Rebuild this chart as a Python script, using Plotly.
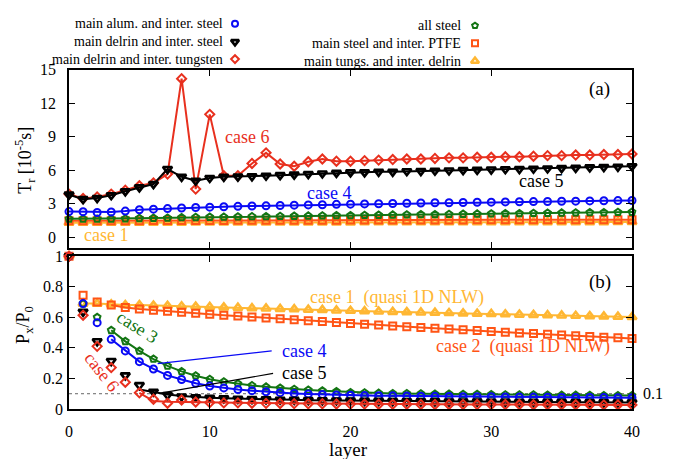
import plotly.graph_objects as go

# ---------------------------------------------------------------- data
layers = list(range(41))

# (a) relaxation time T_r [1e-5 s] per layer
tr_alum_steel = [2.28, 2.27, 2.2, 2.25, 2.33, 2.45, 2.5, 2.55, 2.6, 2.65, 2.68,
                 2.72, 2.75, 2.78, 2.8, 2.83, 2.86, 2.88, 2.9, 2.93, 2.95,
                 2.97, 2.99, 3.01, 3.03, 3.05, 3.07, 3.08, 3.1, 3.12, 3.13,
                 3.15, 3.16, 3.18, 3.19, 3.21, 3.22, 3.24, 3.25, 3.27, 3.28]
tr_delrin_steel = [3.8, 3.4, 3.5, 3.75, 4.1, 4.45, 4.75, 6.1, 5.4, 5.05, 5.3,
                   5.4, 5.42, 5.45, 5.5, 5.55, 5.6, 5.65, 5.7, 5.75, 5.8,
                   5.8, 5.85, 5.85, 5.9, 5.92, 5.95, 5.97, 6.0, 6.02, 6.05,
                   6.08, 6.1, 6.13, 6.15, 6.18, 6.2, 6.25, 6.28, 6.3, 6.35]
tr_delrin_tungsten = [3.85, 3.45, 3.6, 3.85, 4.2, 4.6, 4.85, 5.65, 14.2, 4.3, 11.0,
                      5.5, 5.5, 6.6, 7.55, 6.55, 6.35, 6.75, 7.0, 6.8, 6.8,
                      6.85, 6.9, 6.95, 7.0, 7.0, 7.05, 7.1, 7.1, 7.15, 7.15,
                      7.2, 7.2, 7.25, 7.3, 7.3, 7.35, 7.35, 7.4, 7.4, 7.45]
tr_all_steel = [1.63, 1.63, 1.62, 1.63, 1.65, 1.68, 1.7, 1.72, 1.75, 1.77, 1.79,
                1.8, 1.82, 1.84, 1.85, 1.87, 1.88, 1.9, 1.91, 1.93, 1.94,
                1.96, 1.97, 1.99, 2.0, 2.02, 2.03, 2.05, 2.06, 2.08, 2.09,
                2.11, 2.12, 2.14, 2.15, 2.17, 2.18, 2.2, 2.21, 2.23, 2.24]
tr_steel_ptfe = [1.46, 1.46, 1.46, 1.47, 1.47, 1.47, 1.48, 1.48, 1.48, 1.49, 1.49,
                 1.49, 1.5, 1.5, 1.5, 1.5, 1.51, 1.51, 1.51, 1.51, 1.52,
                 1.52, 1.52, 1.52, 1.53, 1.53, 1.53, 1.53, 1.53, 1.54, 1.54,
                 1.54, 1.54, 1.54, 1.55, 1.55, 1.55, 1.55, 1.55, 1.56, 1.56]
tr_tungs_delrin = [1.28, 1.28, 1.28, 1.28, 1.29, 1.29, 1.29, 1.29, 1.29, 1.3, 1.3,
                   1.3, 1.3, 1.3, 1.3, 1.31, 1.31, 1.31, 1.31, 1.31, 1.31,
                   1.32, 1.32, 1.32, 1.32, 1.32, 1.32, 1.33, 1.33, 1.33, 1.33,
                   1.33, 1.33, 1.34, 1.34, 1.34, 1.34, 1.34, 1.34, 1.35, 1.35]

# (b) transmitted force ratio P_x/P_0 per layer
p_alum_steel = [1.0, 0.69, 0.565, 0.456, 0.38, 0.31, 0.262, 0.22, 0.193, 0.168, 0.15,
                0.138, 0.128, 0.12, 0.113, 0.107, 0.102, 0.098, 0.095, 0.092, 0.09,
                0.088, 0.087, 0.086, 0.085, 0.084, 0.083, 0.082, 0.081, 0.08, 0.08,
                0.079, 0.078, 0.078, 0.077, 0.076, 0.076, 0.075, 0.075, 0.074, 0.074]
p_delrin_steel = [1.0, 0.636, 0.443, 0.314, 0.22, 0.156, 0.113, 0.092, 0.082, 0.077, 0.074,
                  0.07, 0.067, 0.065, 0.063, 0.061, 0.06, 0.058, 0.057, 0.056, 0.055,
                  0.054, 0.053, 0.052, 0.051, 0.05, 0.05, 0.049, 0.048, 0.048, 0.047,
                  0.047, 0.046, 0.046, 0.045, 0.045, 0.044, 0.044, 0.044, 0.043, 0.043]
p_delrin_tungsten = [1.0, 0.614, 0.41, 0.271, 0.175, 0.106, 0.064, 0.038, 0.059, 0.046, 0.042,
                     0.04, 0.04, 0.038, 0.037, 0.036, 0.035, 0.034, 0.034, 0.033, 0.032,
                     0.032, 0.031, 0.031, 0.031, 0.03, 0.03, 0.03, 0.03, 0.029, 0.029,
                     0.029, 0.029, 0.028, 0.028, 0.028, 0.028, 0.028, 0.027, 0.027, 0.027]
p_all_steel = [1.0, 0.69, 0.6, 0.515, 0.443, 0.38, 0.327, 0.282, 0.246, 0.218, 0.195,
               0.178, 0.165, 0.154, 0.145, 0.137, 0.13, 0.124, 0.119, 0.115, 0.108,
               0.106, 0.104, 0.102, 0.101, 0.1, 0.099, 0.098, 0.097, 0.096, 0.095,
               0.094, 0.093, 0.093, 0.092, 0.091, 0.091, 0.09, 0.089, 0.089, 0.088]
p_steel_ptfe = [1.0, 0.745, 0.7, 0.68, 0.665, 0.655, 0.647, 0.64, 0.633, 0.627, 0.62,
                0.614, 0.608, 0.602, 0.596, 0.59, 0.584, 0.578, 0.572, 0.566, 0.56,
                0.555, 0.55, 0.544, 0.539, 0.534, 0.529, 0.523, 0.518, 0.513, 0.508,
                0.503, 0.498, 0.494, 0.489, 0.484, 0.479, 0.475, 0.47, 0.466, 0.461]
p_tungs_delrin = [1.0, 0.69, 0.69, 0.685, 0.68, 0.68, 0.677, 0.675, 0.672, 0.67, 0.668,
                  0.665, 0.663, 0.66, 0.658, 0.655, 0.653, 0.65, 0.648, 0.645, 0.643,
                  0.64, 0.638, 0.636, 0.634, 0.632, 0.63, 0.628, 0.626, 0.624, 0.622,
                  0.62, 0.618, 0.616, 0.614, 0.612, 0.61, 0.608, 0.606, 0.604, 0.602]

# smooth decay curves drawn under the (b) markers, from layer 5 on
fit_layers = list(range(5, 41))
fit_delrin_steel = [0.128, 0.11, 0.095, 0.085, 0.078, 0.074,
                    0.07, 0.067, 0.065, 0.063, 0.061, 0.06, 0.058, 0.057, 0.056, 0.055,
                    0.054, 0.053, 0.052, 0.051, 0.05, 0.05, 0.049, 0.048, 0.048, 0.047,
                    0.047, 0.046, 0.046, 0.045, 0.045, 0.044, 0.044, 0.044, 0.043, 0.043]
fit_delrin_tungsten = [0.106, 0.052, 0.048, 0.046, 0.045, 0.043,
                       0.042, 0.041, 0.04, 0.039, 0.038, 0.037, 0.036, 0.035, 0.034, 0.034,
                       0.033, 0.032, 0.032, 0.031, 0.031, 0.03, 0.03, 0.03, 0.029, 0.029,
                       0.029, 0.028, 0.028, 0.028, 0.028, 0.027, 0.027, 0.027, 0.027, 0.027]

series_names = ["main alum. and inter. steel", "main delrin and inter. steel",
                "main delrin and inter. tungsten", "all steel",
                "main steel and inter. PTFE", "main tungs. and inter. delrin"]

# ---------------------------------------------------------------- styles
FONT = "Liberation Serif"
BLUE, BLACK, RED = "#0a0af5", "#000000", "#e8301e"
GREEN, ORANGE, YELLOW = "#137513", "#ff5415", "#ffb733"

styles = {
    "alum": dict(color=BLUE, symbol="circle-open", size=7, lw=2),
    "dst": dict(color=BLACK, symbol="triangle-down-open", size=8, lw=2.6),
    "dtu": dict(color=RED, symbol="diamond-open", size=7, lw=2),
    "all": dict(color=GREEN, symbol="pentagon-open", size=7, lw=2),
    "ptfe": dict(color=ORANGE, symbol="square-open", size=7, lw=2),
    "tud": dict(color=YELLOW, symbol="triangle-up-open", size=8, lw=2.6),
}

fig = go.Figure()


def marker(st, shrink=0):
    return dict(symbol=st["symbol"], size=st["size"] - shrink, color=st["color"],
                line=dict(width=st["lw"], color=st["color"]))


# ---------------------------------------------------------------- panel (a)
top_order = [("tud", tr_tungs_delrin), ("ptfe", tr_steel_ptfe), ("all", tr_all_steel),
             ("alum", tr_alum_steel), ("dtu", tr_delrin_tungsten), ("dst", tr_delrin_steel)]
for key, vals in top_order:
    st = styles[key]
    fig.add_trace(go.Scatter(x=layers, y=vals, mode="lines+markers", xaxis="x", yaxis="y",
                             line=dict(color=st["color"], width=2), marker=marker(st),
                             cliponaxis=False, showlegend=False))

# ---------------------------------------------------------------- panel (b)
bottom = [("tud", p_tungs_delrin, 1), ("ptfe", p_steel_ptfe, 3), ("all", p_all_steel, 3),
          ("alum", p_alum_steel, 3), ("dst", p_delrin_steel, None), ("dtu", p_delrin_tungsten, None)]
fits = {"dst": fit_delrin_steel, "dtu": fit_delrin_tungsten}
for key, vals, start in bottom:
    st = styles[key]
    if start is not None:
        lx, ly = layers[start:], vals[start:]
    else:
        lx, ly = fit_layers, fits[key]
    fig.add_trace(go.Scatter(x=lx, y=ly, mode="lines", xaxis="x2", yaxis="y2",
                             line=dict(color=st["color"], width=2), showlegend=False))
    fig.add_trace(go.Scatter(x=layers, y=vals, mode="markers", xaxis="x2", yaxis="y2",
                             marker=marker(st), cliponaxis=False, showlegend=False))

# ---------------------------------------------------------------- key (top margin)
key_cols = [(235, 225, [16, 34.5, 52], ["alum", "dst", "dtu"], series_names[0:3]),
            (475, 463, [18, 36, 54], ["all", "ptfe", "tud"], series_names[3:6])]
annotations = []
for mx, tx, rows, keys, names in key_cols:
    for ry, key, name in zip(rows, keys, names):
        st = styles[key]
        fig.add_trace(go.Scatter(x=[mx], y=[ry], mode="markers", xaxis="x3", yaxis="y3",
                                 marker=marker(st, 1), cliponaxis=False, showlegend=False))
        annotations.append(dict(x=tx, y=ry, xref="x3", yref="y3", text=name, showarrow=False,
                                xanchor="right", yanchor="middle",
                                font=dict(family=FONT, size=14, color="black")))


def note(x, y, text, color, xr="x", yr="y", size=18, angle=0, xanchor="center"):
    annotations.append(dict(x=x, y=y, xref=xr, yref=yr, text=text, showarrow=False,
                            xanchor=xanchor, yanchor="middle", textangle=angle,
                            font=dict(family=FONT, size=size, color=color)))


note(12.65, 9.0, "case 6", RED)
note(18.5, 3.95, "case 4", BLUE)
note(33.5, 5.05, "case 5", BLACK)
note(2.6, 0.2, "case 1", YELLOW)
note(37.7, 13.3, "(a)", BLACK, size=19)

note(16.95, 0.728, "case 1  (quasi 1D NLW)", YELLOW, "x2", "y2", xanchor="left")
note(25.95, 0.41, "case 2  (quasi 1D NLW)", ORANGE, "x2", "y2", xanchor="left")
note(15.0, 0.381, "case 4", BLUE, "x2", "y2", xanchor="left")
note(15.0, 0.238, "case 5", BLACK, "x2", "y2", xanchor="left")
note(4.85, 0.535, "case 3", GREEN, "x2", "y2", angle=32)
note(2.35, 0.245, "case 6", RED, "x2", "y2", angle=52)
note(37.7, 0.83, "(b)", BLACK, "x2", "y2", size=19)
annotations.append(dict(x=1.0165, y=0.1, xref="paper", yref="y2", text="0.1", showarrow=False,
                        xanchor="left", yanchor="middle",
                        font=dict(family=FONT, size=16, color="black")))

# axis titles
annotations.append(dict(x=-0.078, y=0.619, xref="paper", yref="paper",
                        xanchor="center", yanchor="middle",
                        text="T<sub>r</sub> [10<sup>-5</sup>s]", showarrow=False, textangle=-90,
                        font=dict(family=FONT, size=18, color="black")))
annotations.append(dict(x=-0.078, y=0.21, xref="paper", yref="paper",
                        xanchor="center", yanchor="middle",
                        text="P<sub>x</sub>/P<sub>0</sub>", showarrow=False, textangle=-90,
                        font=dict(family=FONT, size=18, color="black")))
annotations.append(dict(x=0.497, y=-0.1, xref="paper", yref="paper", text="layer",
                        xanchor="center", yanchor="middle",
                        showarrow=False, font=dict(family=FONT, size=19, color="black")))

shapes = [
    dict(type="line", xref="x2", yref="y2", x0=0, x1=40, y0=0.1, y1=0.1,
         line=dict(color="#666666", width=1, dash="dot"), layer="below"),
    dict(type="line", xref="x2", yref="y2", x0=6.3, y0=0.297, x1=14.4, y1=0.381,
         line=dict(color=BLUE, width=1.2)),
    dict(type="line", xref="x2", yref="y2", x0=6.5, y0=0.104, x1=14.5, y1=0.233,
         line=dict(color=BLACK, width=1.2)),
]

axis_common = dict(showline=True, linecolor="black", linewidth=1.5, mirror="ticks",
                   ticks="inside", ticklen=6, tickwidth=1, tickcolor="black",
                   showgrid=False, zeroline=False,
                   tickfont=dict(family=FONT, size=16, color="black"))

fig.update_layout(
    width=674, height=459,
    margin=dict(l=69, r=42, t=0, b=50),
    paper_bgcolor="white", plot_bgcolor="white",
    showlegend=False,
    xaxis=dict(domain=[0, 1], range=[0, 40], dtick=10, showticklabels=False,
               anchor="y", **axis_common),
    yaxis=dict(domain=[0.401, 0.846], range=[-1, 15], dtick=3, anchor="x",
               ticklabelstandoff=8, **axis_common),
    xaxis2=dict(domain=[0, 1], range=[0, 40], dtick=10, anchor="y2",
                ticklabelstandoff=7, **axis_common),
    yaxis2=dict(domain=[0, 0.381], range=[0, 1], dtick=0.2, anchor="x2",
                ticklabelstandoff=1, **axis_common),
    xaxis3=dict(domain=[0, 1], range=[69, 632], visible=False, anchor="y3"),
    yaxis3=dict(domain=[0.853, 1], range=[60, 0], visible=False, anchor="x3"),
    annotations=annotations,
    shapes=shapes,
)

fig.write_html("out.html")
